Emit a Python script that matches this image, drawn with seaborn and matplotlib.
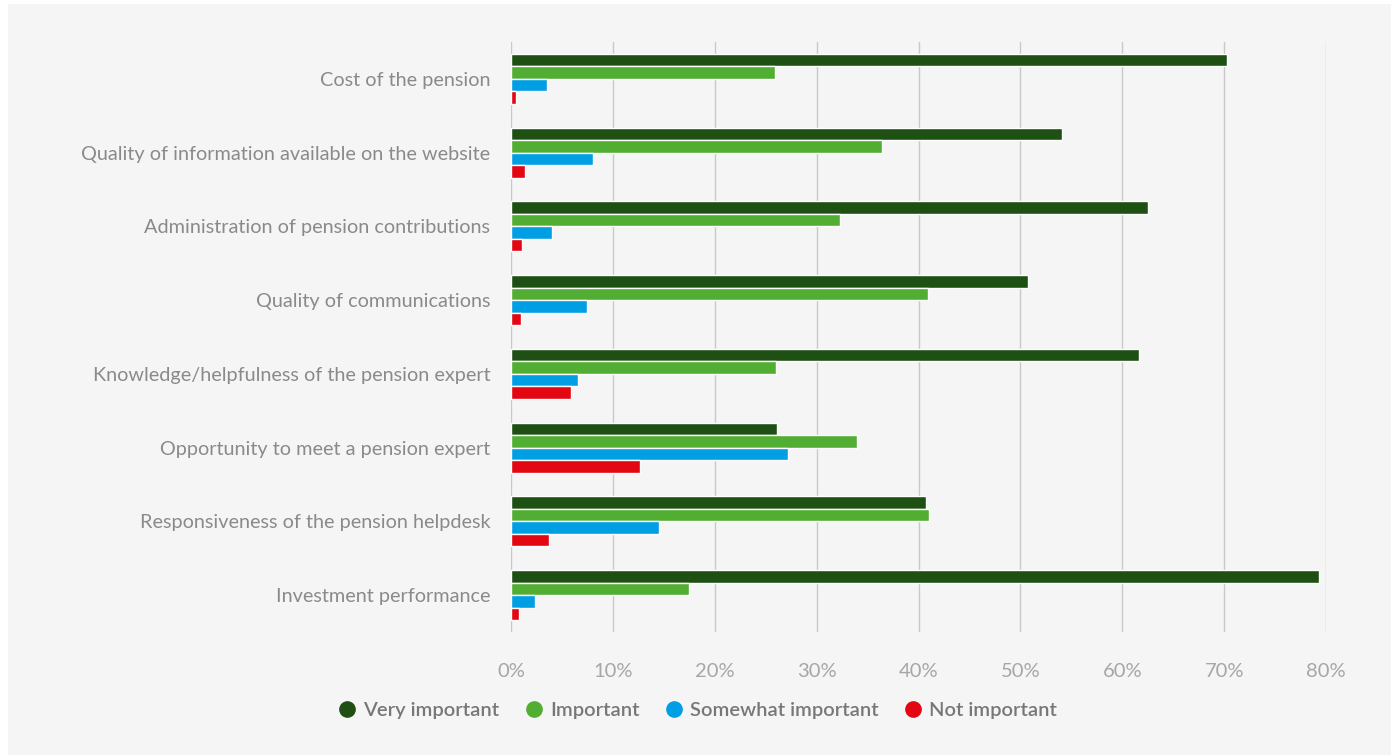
import pandas as pd
import matplotlib.pyplot as plt
import seaborn as sns
from matplotlib.patches import Rectangle
from matplotlib.lines import Line2D
from matplotlib.ticker import FuncFormatter

categories = ['Cost of the pension',
              'Quality of information available on the website',
              'Administration of pension contributions',
              'Quality of communications',
              'Knowledge/helpfulness of the pension expert',
              'Opportunity to meet a pension expert',
              'Responsiveness of the pension helpdesk',
              'Investment performance']
levels = ['Very important', 'Important', 'Somewhat important', 'Not important']

very_important = [70.3, 54.1, 62.5, 50.7, 61.6, 26.1, 40.7, 79.3]
important = [25.9, 36.4, 32.3, 40.9, 26.0, 34.0, 41.0, 17.5]
somewhat_important = [3.5, 8.0, 4.0, 7.5, 6.6, 27.2, 14.5, 2.4]
not_important = [0.5, 1.4, 1.1, 1.0, 5.9, 12.7, 3.7, 0.8]

colors = ['#1e5014', '#52ad33', '#009fe3', '#e30613']

# long format for seaborn
df = pd.DataFrame({'Category': categories,
                   'Very important': very_important,
                   'Important': important,
                   'Somewhat important': somewhat_important,
                   'Not important': not_important})
df = df.melt(id_vars='Category', var_name='Level', value_name='Share')

sns.set_style('white')
plt.rcParams['font.family'] = ['Lato', 'DejaVu Sans']

bg = '#f5f5f5'
fig = plt.figure(figsize=(13.91, 7.55), dpi=100, facecolor='white')
fig.patches.append(Rectangle((8 / 1391, 0), 1, 1 - 4 / 755, transform=fig.transFigure,
                             facecolor=bg, edgecolor='none', zorder=-10))
ax = fig.add_axes([511 / 1391, 1 - 632 / 755, (1326 - 511) / 1391, (632 - 42) / 755])
ax.set_facecolor(bg)

sns.barplot(data=df, y='Category', x='Share', hue='Level', order=categories,
            hue_order=levels, palette=colors, orient='h', width=0.68,
            saturation=1, ax=ax, legend=False)

ax.set_xlim(0, 80)
ax.set_ylim(7.5, -0.5)
ax.set_xticks(range(0, 81, 10))
ax.xaxis.set_major_formatter(FuncFormatter(lambda v, p: f'{int(v)}%'))
ax.grid(axis='x', color='#c8c8c8', linewidth=1)
ax.set_axisbelow(True)
for s in ax.spines.values():
    s.set_visible(False)
ax.set_xlabel('')
ax.set_ylabel('')
ax.tick_params(axis='x', length=0, pad=22, labelsize=14.5, labelcolor='#a6a6a6')
ax.tick_params(axis='y', length=0, pad=15, labelsize=14.3, labelcolor='#8a8a8a')

handles = [Line2D([], [], marker='o', linestyle='', markersize=11,
                  markerfacecolor=c, markeredgecolor=c) for c in colors]
leg = fig.legend(handles, levels, loc='center', bbox_to_anchor=(697 / 1391, 1 - 710 / 755),
                 ncol=4, frameon=False, handlelength=1.0, handletextpad=0.3,
                 columnspacing=1.2, prop={'size': 14.5, 'weight': 'semibold'})
for t in leg.get_texts():
    t.set_color('#777777')

fig.savefig('out.png', dpi=100, facecolor='white')
